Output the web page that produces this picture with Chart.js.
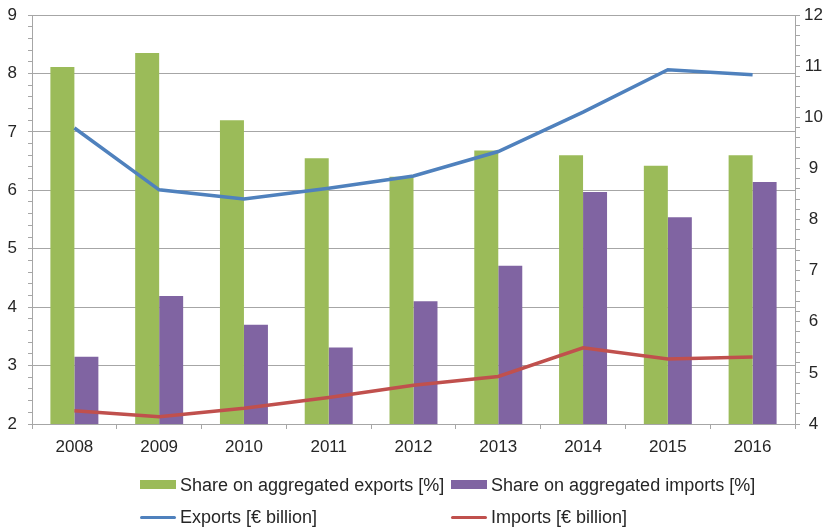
<!DOCTYPE html>
<html>
<head>
<meta charset="utf-8">
<script src="https://cdn.jsdelivr.net/npm/chart.js@4/dist/chart.umd.min.js"></script>
<style>
  html, body { margin: 0; padding: 0; background: #fff; }
  #wrap { position: relative; width: 832px; height: 527px; }
  #myChart { position: absolute; left: 0; top: 0; }
  .leg { position: absolute; font: 18px "Liberation Sans", Arial, sans-serif; color: #262626; white-space: nowrap; }
  .sw { position: absolute; }
</style>
</head>
<body>
<div id="wrap">
  <canvas id="myChart" width="832" height="527"></canvas>
  <div id="legend"></div>
</div>
<script>
// dados
const years = ['2008', '2009', '2010', '2011', '2012', '2013', '2014', '2015', '2016'];
const shareExports = [8.11, 8.35, 7.2, 6.55, 6.23, 6.68, 6.6, 6.42, 6.6];
const shareImports = [3.15, 4.19, 3.7, 3.31, 4.1, 4.71, 5.97, 5.54, 6.14];
const exportsBn = [9.79, 8.58, 8.4, 8.61, 8.85, 9.33, 10.1, 10.93, 10.83];
const importsBn = [4.26, 4.14, 4.31, 4.52, 4.76, 4.93, 5.49, 5.27, 5.31];

const corTexto = '#262626';
const corGrade = '#a6a6a6';
const fonteTicks = { family: 'Liberation Sans, Arial, sans-serif', size: 17 };

function inteiro(v) {
    return Math.abs(v - Math.round(v)) < 1e-6;
}

// eixo vertical sem folga extra em cima/baixo
function ajustaEixoY(largura) {
    return function (s) {
        s.width = largura;
        s.paddingTop = 0;
        s.paddingBottom = 0;
    };
}

const ctx = document.getElementById('myChart').getContext('2d');
const myChart = new Chart(ctx, {
    type: 'bar',
    data: {
        labels: years,
        datasets: [{
            label: 'Share on aggregated exports [%]',
            data: shareExports,
            backgroundColor: '#9BBB59',
            yAxisID: 'y',
            order: 1
        }, {
            label: 'Share on aggregated imports [%]',
            data: shareImports,
            backgroundColor: '#8064A2',
            yAxisID: 'y',
            order: 1
        }, {
            type: 'line',
            label: 'Exports [€ billion]',
            data: exportsBn,
            borderColor: '#4F81BD',
            backgroundColor: '#4F81BD',
            borderWidth: 3.5,
            pointRadius: 0,
            tension: 0,
            yAxisID: 'y1',
            order: 0
        }, {
            type: 'line',
            label: 'Imports [€ billion]',
            data: importsBn,
            borderColor: '#C0504D',
            backgroundColor: '#C0504D',
            borderWidth: 3.5,
            pointRadius: 0,
            tension: 0,
            yAxisID: 'y1',
            order: 0
        }]
    },
    options: {
        responsive: false,
        animation: false,
        layout: { padding: { top: 15, left: 0, right: 0, bottom: 0 } },
        datasets: {
            bar: { categoryPercentage: 0.566, barPercentage: 1 }
        },
        plugins: {
            legend: { display: false },
            tooltip: { enabled: false }
        },
        scales: {
            x: {
                afterFit: function (s) {
                    s.height = 103;
                    s.paddingLeft = 0;
                    s.paddingRight = 0;
                },
                grid: {
                    drawOnChartArea: false,
                    tickLength: 5,
                    tickColor: corGrade,
                    offset: true
                },
                border: { color: corGrade, width: 1 },
                ticks: { color: corTexto, font: fonteTicks, padding: 8 }
            },
            y: {
                position: 'left',
                min: 2,
                max: 9,
                afterFit: ajustaEixoY(32),
                grid: {
                    color: function (c) { return inteiro(c.tick.value) ? corGrade : 'rgba(0,0,0,0)'; },
                    tickColor: corGrade,
                    tickLength: 4,
                    lineWidth: 1
                },
                border: { color: corGrade, width: 1 },
                ticks: {
                    stepSize: 0.2,
                    autoSkip: false,
                    maxTicksLimit: 100,
                    padding: 11,
                    color: corTexto,
                    font: fonteTicks,
                    callback: function (v) { return inteiro(v) ? Math.round(v) : ''; }
                }
            },
            y1: {
                position: 'right',
                min: 4,
                max: 12,
                afterFit: ajustaEixoY(37),
                grid: {
                    drawOnChartArea: false,
                    tickColor: corGrade,
                    tickLength: 5
                },
                border: { color: corGrade, width: 1 },
                ticks: {
                    stepSize: 0.2,
                    autoSkip: false,
                    maxTicksLimit: 100,
                    padding: 4,
                    crossAlign: 'center',
                    color: corTexto,
                    font: fonteTicks,
                    callback: function (v) { return inteiro(v) ? Math.round(v) : ''; }
                }
            }
        }
    }
});

// legenda em duas linhas, montada a partir dos datasets
const posLegenda = [
    { x: 140, y: 485 },
    { x: 451, y: 485 },
    { x: 140, y: 517 },
    { x: 451, y: 517 }
];
const legenda = document.getElementById('legend');
myChart.data.datasets.forEach(function (ds, i) {
    const p = posLegenda[i];
    const sw = document.createElement('div');
    sw.className = 'sw';
    sw.style.left = p.x + 'px';
    sw.style.width = '36px';
    sw.style.background = ds.type === 'line' ? ds.borderColor : ds.backgroundColor;
    if (ds.type === 'line') {
        sw.style.top = (p.y - 1.5) + 'px';
        sw.style.height = '3px';
        sw.style.borderRadius = '2px';
    } else {
        sw.style.top = (p.y - 5) + 'px';
        sw.style.height = '9px';
    }
    legenda.appendChild(sw);
    const t = document.createElement('div');
    t.className = 'leg';
    t.textContent = ds.label;
    t.style.left = (p.x + 40) + 'px';
    t.style.top = (p.y - 11) + 'px';
    t.style.lineHeight = '22px';
    legenda.appendChild(t);
});
</script>
</body>
</html>
